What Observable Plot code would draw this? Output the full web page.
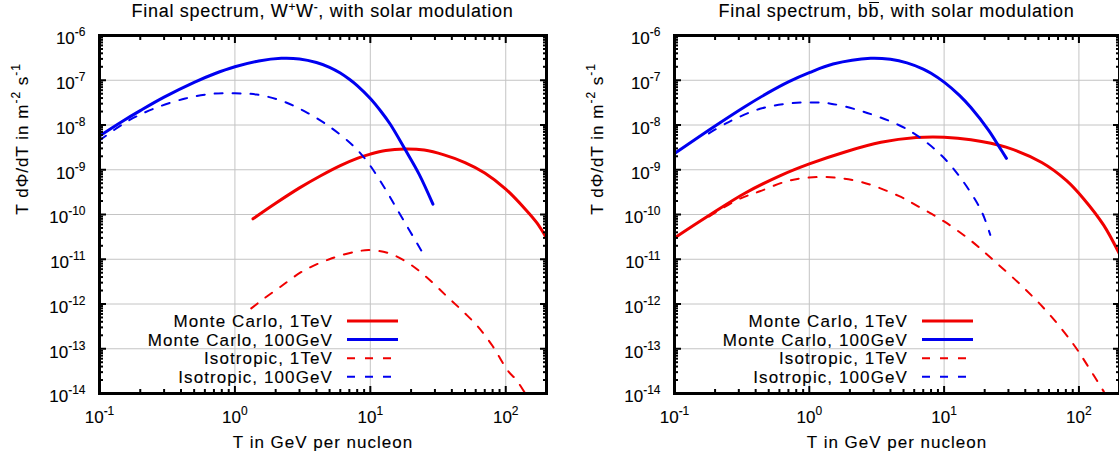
<!DOCTYPE html>
<html>
<head>
<meta charset="utf-8">
<script src="https://cdn.jsdelivr.net/npm/d3@7"></script>
<script src="https://cdn.jsdelivr.net/npm/@observablehq/plot@0.6"></script>
<style>
  body { margin: 0; background: #fff; font-family: "Liberation Sans", Arial, sans-serif; }
  #page { display: flex; width: 1119px; height: 459px; overflow: hidden; }
  .panel { position: relative; flex: none; }
  .title { box-sizing: border-box; height: 26px; line-height: 23px; font-size: 18px; letter-spacing: 0.7px;
           text-align: center; white-space: nowrap; color: #000; -webkit-text-stroke: 0.12px #000; }
  .title sup { font-size: 12px; line-height: 0; vertical-align: 6px; letter-spacing: 0.5px; }
  .over { display: inline-block; line-height: 0.9em; border-top: 1.3px solid #000; }
  svg text { stroke: #000; stroke-width: 0.12px; }
</style>
</head>
<body>
<div id="page"></div>
<script>
// Spectra as [T (GeV per nucleon), T dΦ/dT (m^-2 s^-1)] pairs.
// W+W- channel
const wwMc1TeV = [[1.36,8e-11],[2,1.78e-10],[3,3.93e-10],[4.3,7.36e-10],[6,1.24e-9],[8,1.8e-9],[10,2.24e-9],[13,2.7e-9],[18,2.9e-9],[25,2.75e-9],[35,2.15e-9],[50,1.45e-9],[70,8.5e-10],[100,3.7e-10],[140,1.3e-10],[170,6.5e-11],[200,3e-11]];
const wwMc100GeV = [[0.1,5.7e-9],[0.15,1.25e-8],[0.2,2.1e-8],[0.3,4.2e-8],[0.5,9e-8],[0.7,1.38e-7],[1,2.0e-7],[1.5,2.7e-7],[2.2,3.1e-7],[3,3.0e-7],[4,2.5e-7],[5,1.95e-7],[6,1.45e-7],[7,1.05e-7],[8,7.6e-8],[10,3.9e-8],[12,2e-8],[14,1.05e-8],[18,2.9e-9],[23,7.8e-10],[29,1.7e-10]];
const wwIso1TeV = [[1.32,8e-13],[1.6,1.25e-12],[2.2,2.5e-12],[3.2,5.5e-12],[5.2,1.05e-11],[8,1.5e-11],[10,1.6e-11],[13.8,1.35e-11],[18.8,8.5e-12],[25.5,4.2e-12],[36.6,1.5e-12],[50,6.2e-13],[63,3e-13],[80,1.15e-13],[104,3.2e-14],[120,2e-14],[138,1.05e-14]];
const wwIso100GeV = [[0.1,4.5e-9],[0.16,1.2e-8],[0.25,2.3e-8],[0.43,3.9e-8],[0.69,5e-8],[1,5.1e-8],[1.44,4.8e-8],[2.2,3.5e-8],[3.2,2.1e-8],[4.9,9.6e-9],[7.5,3.4e-9],[9.6,1.45e-9],[13,3.55e-10],[16.6,1e-10],[24,1.5e-11]];

// b bbar channel
const bbMc1TeV = [[0.1,3e-11],[0.18,9.5e-11],[0.33,2.95e-10],[0.61,7.4e-10],[1,1.35e-9],[1.84,2.5e-9],[3.4,4.1e-9],[6.2,5.25e-9],[10,5.35e-9],[15.8,4.7e-9],[28.8,3.2e-9],[53,1.45e-9],[81,5.7e-10],[109,2.2e-10],[153,5.7e-11],[200,1.3e-11]];
const bbMc100GeV = [[0.1,2.3e-9],[0.2,9.5e-9],[0.33,2.53e-8],[0.5,5.35e-8],[0.7,9.2e-8],[1,1.48e-7],[1.5,2.3e-7],[2.85,3.1e-7],[4,2.93e-7],[5.3,2.45e-7],[7,1.78e-7],[8,1.44e-7],[10,9.1e-8],[13,4.6e-8],[15.8,2.46e-8],[21.4,7.6e-9],[25.7,3.2e-9],[29,1.8e-9]];
const bbIso1TeV = [[0.18,9e-11],[0.3,2.2e-10],[0.43,3.3e-10],[0.69,5.6e-10],[1,6.7e-10],[1.53,6.7e-10],[2.5,5.2e-10],[4.6,2.6e-10],[6.6,1.45e-10],[10,7e-11],[15.8,2.6e-11],[23.5,9.2e-12],[39,2.3e-12],[60,6e-13],[91,1.26e-13],[116,4.2e-14],[153,1.1e-14]];
const bbIso100GeV = [[0.18,6.5e-9],[0.25,1.15e-8],[0.43,2.3e-8],[0.69,3e-8],[1,3.2e-8],[1.44,3e-8],[2.5,2e-8],[4.6,1e-8],[6.6,5.3e-9],[9.7,2e-9],[13.5,6.1e-10],[18.2,1.5e-10],[20,8e-11],[22,3.5e-11]];

// Series names and styles, in legend order
const seriesNames = ["Monte Carlo, 1TeV", "Monte Carlo, 100GeV", "Isotropic, 1TeV", "Isotropic, 100GeV"];
const seriesColors = ["#f00000", "#0000f0", "#f00000", "#0000f0"];
const seriesDashed = [false, false, true, true];

// Axes
const xTicks = [0.1, 1, 10, 100];
const xTickLabels = ["10^{-1}", "10^{0}", "10^{1}", "10^{2}"];
const yTicks = [1e-14, 1e-13, 1e-12, 1e-11, 1e-10, 1e-9, 1e-8, 1e-7, 1e-6];
const yTickLabels = ["10^{-14}", "10^{-13}", "10^{-12}", "10^{-11}", "10^{-10}", "10^{-9}", "10^{-8}", "10^{-7}", "10^{-6}"];
const xLabel = "T in GeV per nucleon";
const yLabel = "T dΦ/dT in m^{-2} s^{-1}";

const panels = [
  {title: "Final spectrum, W<sup>+</sup>W<sup>-</sup>, with solar modulation",
   series: [wwMc1TeV, wwMc100GeV, wwIso1TeV, wwIso100GeV],
   width: 560, marginLeft: 99, marginRight: 14},
  {title: "Final spectrum, b<span class=\"over\">b</span>, with solar modulation",
   series: [bbMc1TeV, bbMc100GeV, bbIso1TeV, bbIso100GeV],
   width: 559, marginLeft: 114, marginRight: 0}
];

const FONT = "'Liberation Sans', Arial, Helvetica, sans-serif";
const FONT_SIZE = 17, SUP_SIZE = 12, SUP_RISE = 8;
const SVG_HEIGHT = 433, MARGIN_TOP = 9, MARGIN_BOTTOM = 66;

// minor ticks at 2..9 × each decade
function minorTicks(lo, hi) {
  const out = [];
  for (let e = Math.floor(Math.log10(lo)); e <= Math.ceil(Math.log10(hi)); e++) {
    for (let k = 2; k <= 9; k++) {
      const v = k * Math.pow(10, e);
      if (v > lo && v < hi) out.push(v);
    }
  }
  return out;
}
const xMinor = minorTicks(0.1, 200);
const yMinor = minorTicks(1e-14, 1e-6);
const blank = () => "";

// rewrites "a^{b}" text into tspans with a raised, smaller exponent
function superscripts(svg) {
  d3.select(svg).selectAll("text").each(function () {
    const s = this.textContent;
    if (!s.includes("^{")) return;
    const parts = s.split(/(\^\{[^}]*\})/).filter(p => p !== "");
    const el = d3.select(this).text(null);
    let raised = false;
    for (const p of parts) {
      if (p.startsWith("^{")) {
        el.append("tspan").attr("dy", raised ? 0 : -SUP_RISE).attr("font-size", SUP_SIZE).text(p.slice(2, -1));
        raised = true;
      } else {
        const t = el.append("tspan").text(p);
        if (raised) t.attr("dy", SUP_RISE);
        raised = false;
      }
    }
  });
}

const page = document.getElementById("page");

for (const p of panels) {
  const rows = p.series.flatMap((pts, i) => pts.map(([T, flux]) => ({T, flux, i})));

  const lines = seriesNames.map((name, i) => Plot.line(rows.filter(r => r.i === i), {
    x: "T", y: "flux",
    stroke: seriesColors[i],
    strokeWidth: seriesDashed[i] ? 2 : 3,
    strokeDasharray: seriesDashed[i] ? "8,10" : null,
    curve: "catmull-rom",
    clip: true
  }));

  const tickMarks = [];
  for (const anchor of ["bottom", "top"]) {
    tickMarks.push(Plot.axisX({anchor, ticks: xTicks, tickSize: -7, strokeWidth: 2, tickFormat: blank, label: null}));
    tickMarks.push(Plot.axisX({anchor, ticks: xMinor, tickSize: -4, strokeWidth: 2, tickFormat: blank, label: null}));
  }
  for (const anchor of ["left", "right"]) {
    tickMarks.push(Plot.axisY({anchor, ticks: yTicks, tickSize: -7, strokeWidth: 2, tickFormat: blank, label: null}));
    tickMarks.push(Plot.axisY({anchor, ticks: yMinor, tickSize: -4, strokeWidth: 2, tickFormat: blank, label: null}));
  }

  const svg = Plot.plot({
    width: p.width, height: SVG_HEIGHT,
    marginTop: MARGIN_TOP, marginBottom: MARGIN_BOTTOM,
    marginLeft: p.marginLeft, marginRight: p.marginRight,
    style: {fontFamily: FONT, fontSize: FONT_SIZE + "px", color: "#000", background: "#fff", overflow: "visible"},
    x: {type: "log", domain: [0.1, 200]},
    y: {type: "log", domain: [1e-14, 1e-6]},
    marks: [
      Plot.gridX({ticks: xTicks, stroke: "#c4c4c4", strokeOpacity: 1, strokeWidth: 1}),
      Plot.gridY({ticks: yTicks, stroke: "#c4c4c4", strokeOpacity: 1, strokeWidth: 1}),
      ...lines,
      ...tickMarks,
      Plot.axisX({anchor: "bottom", ticks: xTicks, tickSize: 0, tickPadding: 17,
                  tickFormat: d => xTickLabels[xTicks.indexOf(d)], label: null, fontSize: FONT_SIZE}),
      Plot.axisY({anchor: "left", ticks: yTicks, tickSize: 0, tickPadding: 14, dy: 3.5,
                  tickFormat: d => yTickLabels[yTicks.indexOf(d)], label: null, fontSize: FONT_SIZE}),
      Plot.frame({stroke: "#000", strokeWidth: 3}),
      Plot.text([xLabel], {frameAnchor: "bottom", dy: 49, fontSize: FONT_SIZE, lineAnchor: "middle"}),
      Plot.text([yLabel], {frameAnchor: "left", dx: -77, rotate: -90, fontSize: FONT_SIZE, lineAnchor: "middle"})
    ]
  });

  superscripts(svg);
  // wide glyph spacing on the descriptive texts
  d3.select(svg).selectAll("text").filter(function () {
    return this.textContent === xLabel || this.textContent.startsWith("T dΦ");
  }).style("letter-spacing", "1px");

  // key, inside the lower-left part of the frame
  const key = d3.select(svg).append("g").attr("font-family", FONT).attr("font-size", FONT_SIZE);
  seriesNames.forEach((name, i) => {
    const cy = MARGIN_TOP + 286 + i * 18.6;
    key.append("text")
      .attr("x", p.marginLeft + 234).attr("y", cy + 6)
      .attr("text-anchor", "end").style("letter-spacing", "1.1px")
      .text(name);
    key.append("line")
      .attr("x1", p.marginLeft + 248).attr("x2", p.marginLeft + 299)
      .attr("y1", cy).attr("y2", cy)
      .attr("stroke", seriesColors[i])
      .attr("stroke-width", seriesDashed[i] ? 2 : 3)
      .attr("stroke-dasharray", seriesDashed[i] ? "8,10" : null);
  });

  const panel = document.createElement("div");
  panel.className = "panel";
  panel.style.width = p.width + "px";
  const title = document.createElement("div");
  title.className = "title";
  title.style.paddingLeft = p.marginLeft + "px";
  title.style.paddingRight = p.marginRight + "px";
  title.innerHTML = p.title;
  panel.appendChild(title);
  panel.appendChild(svg);
  page.appendChild(panel);
}
</script>
</body>
</html>
